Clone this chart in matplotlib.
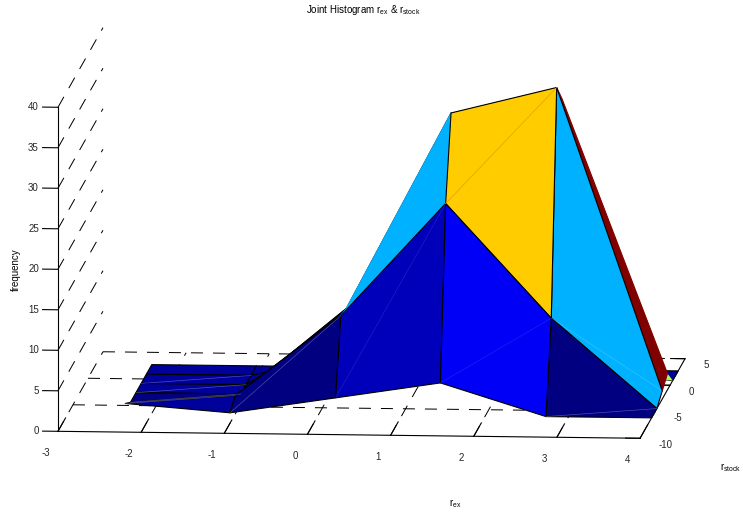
import numpy as np
import matplotlib
matplotlib.use('Agg')
import matplotlib.pyplot as plt
from mpl_toolkits.mplot3d import proj3d

plt.rcParams['font.family'] = ['Liberation Sans', 'DejaVu Sans']
plt.rcParams['mathtext.fontset'] = 'custom'
plt.rcParams['mathtext.rm'] = 'Liberation Sans'
plt.rcParams['axes.unicode_minus'] = False

W, H = 743, 514
L = 900  # square 3d axes, bigger than the figure so nothing gets clipped

# bin centres
r_ex = [-2.33, -1.07, 0.2, 1.46, 2.73, 4.0]
r_stock = [-6.15, -4.4, -2.6, -0.85, 0.9, 2.7]

# counts, one row per r_stock bin
counts = [
    [1, 0, 2, 4, 0, 0],
    [0, 1, 11, 25, 11, 0],
    [0, 0, 10.7, 35, 38.3, 1],
    [0, 0, 8, 20, 35.8, 2],
    [0, 0, 3, 5, 1, 0],
    [0, 0, 0, 0, 0, 0],
]
# the colour of each facet, same as the count of its first corner except a few
face_levels = [
    [1, 0, 2, 4, 0],
    [0, 1, 11.4, 26.4, 11.4],
    [1, 1, 11, 35, 38],
    [1, 1, 8, 20, 21],
    [1, 1, 3, 5, 1],
]
x_ticks = [-3, -2, -1, 0, 1, 2, 3, 4]
y_ticks = [-10, -5, 0, 5]
z_ticks = [0, 5, 10, 15, 20, 25, 30, 35, 40]

fig = plt.figure(figsize=(W / 100, H / 100), dpi=100)
left = 371.5 - 0.5135 * L
bottom = 281 - 0.5135 * L
ax = fig.add_axes([left / W, bottom / H, L / W, L / H], projection='3d')
ax.patch.set_alpha(0)
ax.set_proj_type('ortho')
ax.view_init(elev=8.36, azim=-85.3)
ax.computed_zorder = False

ax.set_xlim(x_ticks[0], x_ticks[-1])
ax.set_ylim(y_ticks[0], y_ticks[-1])
ax.set_zlim(z_ticks[0], z_ticks[-1])
aspect = np.array([584, 549, 327.5]) / (0.5405 * L)
ax.set_box_aspect(aspect, zoom=np.linalg.norm(aspect) / (1.8294640721620434 * 25 / 24))

X, Y = np.meshgrid(r_ex, r_stock)
Z = np.array(counts, dtype=float)
levels = np.array(face_levels, dtype=float)
colors = plt.cm.jet(levels / 38)
surf = ax.plot_surface(X, Y, Z, rstride=1, cstride=1, facecolors=colors, shade=False,
                       edgecolor='k', linewidth=0.8, antialiased=True, zorder=3)

# silhouette facets have no black outline in the original
n_cols = levels.shape[1]
edges = np.tile([0, 0, 0, 1.0], (levels.size, 1))
edges[1 * n_cols + 2] = colors[1, 2]
edges[2 * n_cols + 4] = colors[2, 4]
for r, c in [(2, 3), (3, 3), (3, 4)]:
    edges[r * n_cols + c] = (0, 0, 0, 0)
surf.set_edgecolor(edges)

# faint seams where the renderer split a facet in two
for r, c, a in [(0, 0, 0.3), (1, 0, 0.3), (2, 0, 0.3), (3, 0, 0.3), (0, 1, 0.3),
                (0, 2, 0.12), (0, 3, 0.12), (0, 4, 0.3), (1, 4, 0.2)]:
    ax.plot(X[r:r + 2, c:c + 2].diagonal(), Y[r:r + 2, c:c + 2].diagonal(), Z[r:r + 2, c:c + 2].diagonal(),
            color='w', lw=0.5, alpha=a, zorder=4)
ax.plot(X[1:3, 3:5].diagonal(), Y[1:3, 3:5].diagonal(), Z[1:3, 3:5].diagonal(),
        color='#E8A000', lw=0.5, zorder=4)

# dashed grid: floor and left wall only
grid_kw = dict(color='k', lw=0.72, dashes=(12, 10), zorder=1)
for x in x_ticks[:-1]:
    ax.plot([x, x], [y_ticks[0], y_ticks[-1]], [0, 0], **grid_kw)
for y in y_ticks[1:]:
    ax.plot([x_ticks[0], x_ticks[-1]], [y, y], [0, 0], **grid_kw)
for z in z_ticks[1:]:
    ax.plot([x_ticks[0], x_ticks[0]], [y_ticks[0], y_ticks[-1]], [z, z], **grid_kw)

ax.set_xticks(x_ticks)
ax.set_yticks(y_ticks)
ax.set_zticks(z_ticks)
ax.grid(False)
ax.zaxis.set_ticks_position('lower')
ax.zaxis._get_tickdir = lambda pos: 0  # z ticks stick out along x, not y
for axis, out in ((ax.xaxis, 2.1), (ax.yaxis, 0.31), (ax.zaxis, 0.33)):
    axis.set_pane_color((1, 1, 1, 0))
    axis.pane.set_edgecolor((1, 1, 1, 0))
    axis.line.set_color('k')
    axis.line.set_linewidth(0.8)
    axis.set_tick_params(label1On=False)
    axis._axinfo['tick']['outward_factor'] = out
    axis._axinfo['tick']['inward_factor'] = 0.0
    axis._axinfo['tick']['linewidth'] = {True: 0.8, False: 0.8}
    axis._axinfo['tick']['color'] = 'k'


def tick_label(x, y, z, s, ha):
    # plain 2d text at the projected spot, native labels can't be moved this freely
    px, py, _ = proj3d.proj_transform(x, y, z, ax.get_proj())
    ax.text2D(px, py, s, transform=ax.transData, fontsize=7, color='#262626',
              ha=ha, va='center', zorder=5)


for x in x_ticks:
    tick_label(x, y_ticks[0] - 4.1, 0, str(x), 'center')
for y in y_ticks:
    tick_label(x_ticks[-1] + 0.22, y, -0.8, str(y), 'left')
for z in z_ticks:
    tick_label(x_ticks[0] - 0.23, y_ticks[0], z, str(z), 'right')

fig.text(363 / W, 1 - 10 / H, r'Joint Histogram r$_{\mathrm{ex}}$ & r$_{\mathrm{stock}}$',
         ha='center', va='center', fontsize=7)
fig.text(16 / W, 1 - 270 / H, 'frequency', rotation=90, ha='center', va='center', fontsize=7)
fig.text(455 / W, 1 - 504 / H, r'r$_{\mathrm{ex}}$', ha='center', va='center', fontsize=7)
fig.text(731 / W, 1 - 468 / H, r'r$_{\mathrm{stock}}$', ha='center', va='center', fontsize=7)

fig.savefig('out.png', dpi=100)
